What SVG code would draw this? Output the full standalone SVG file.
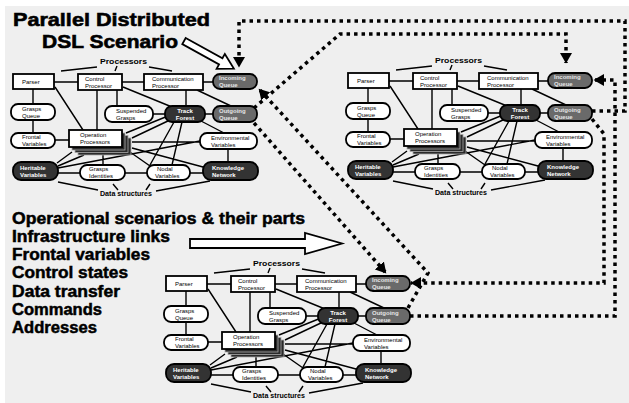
<svg xmlns="http://www.w3.org/2000/svg" width="629" height="403" viewBox="0 0 629 403">
<defs>
<style>
.t{font-family:"Liberation Sans",Arial,sans-serif;font-size:6px;fill:#000}
.tw{font-family:"Liberation Sans",Arial,sans-serif;font-size:6px;font-weight:bold;fill:#fff}
.tg{font-family:"Liberation Sans",Arial,sans-serif;font-size:6px;font-weight:bold;fill:#e4e4e4}
.lbl{font-family:"Liberation Sans",Arial,sans-serif;font-size:7.5px;font-weight:bold;fill:#000}
.big{font-family:"Liberation Sans",Arial,sans-serif;font-size:19px;font-weight:bold;fill:#000;stroke:#000;stroke-width:0.6}
.list{font-family:"Liberation Sans",Arial,sans-serif;font-size:16.5px;font-weight:bold;fill:#000;stroke:#000;stroke-width:0.5}
.n{fill:#fff;stroke:#000;stroke-width:1.8}
.dk{fill:#333;stroke:#000;stroke-width:1.8}
.gy{fill:#6a6a6a;stroke:#000;stroke-width:1.8}
.st{fill:#2a2a2a;stroke:#aaa;stroke-width:0.8}
.e{stroke:#000;stroke-width:1.4;fill:none}
.dot{stroke:#000;stroke-width:3.5;stroke-dasharray:3.5 4;fill:none}
.hol{fill:#fff;stroke:#000;stroke-width:1.8;stroke-linejoin:miter}
</style>
<marker id="ah" markerUnits="userSpaceOnUse" viewBox="0 0 11 12" markerWidth="11" markerHeight="12" refX="10" refY="6" orient="auto"><path d="M0,0 L10.5,6 L0,12 z" fill="#000"/></marker>
</defs>
<rect width="629" height="403" fill="#fff"/>
<rect x="5" y="6" width="624" height="397" fill="#efefef"/>

<g id="titles">
<text class="big" x="13" y="26" textLength="197" lengthAdjust="spacingAndGlyphs">Parallel Distributed</text>
<text class="big" x="42" y="47.5" textLength="136" lengthAdjust="spacingAndGlyphs">DSL Scenario</text>
<text class="list" x="12" y="224" textLength="293" lengthAdjust="spacingAndGlyphs">Operational scenarios &amp; their parts</text>
<text class="list" x="12" y="242" textLength="158" lengthAdjust="spacingAndGlyphs">Infrastructure links</text>
<text class="list" x="12" y="260" textLength="138" lengthAdjust="spacingAndGlyphs">Frontal variables</text>
<text class="list" x="12" y="278" textLength="116" lengthAdjust="spacingAndGlyphs">Control states</text>
<text class="list" x="12" y="297" textLength="108" lengthAdjust="spacingAndGlyphs">Data transfer</text>
<text class="list" x="12" y="315" textLength="90" lengthAdjust="spacingAndGlyphs">Commands</text>
<text class="list" x="12" y="333" textLength="85" lengthAdjust="spacingAndGlyphs">Addresses</text>
</g>

<g id="hollow-arrows">
<polygon class="hol" transform="translate(184,41) rotate(29)" points="0,-3.5 42,-3.5 42,-8.5 57,0 42,8.5 42,3.5 0,3.5"/>
<polygon class="hol" points="190,239 305,239 305,233 342,243.5 305,254 305,248 190,248"/>
</g>

<!-- Diagram A (top-left) -->
<g id="diagA">
<g id="A-edges">
<path class="e" d="M54,82H78M122,82H144M203,82H213M33,89V104M33,120V133M55,140H69M55,87L83,130M97,90V130M117,90V106M123,87L172,107M186,90V106M197,90L231,106M153,114H165M205,114H213M126,133L168,116M132,138L170,120M132,142H200M132,148L203,167M130,152L150,166M103,154V165M57,163L72,152M58,166L84,155M58,168L200,141M58,173H80M125,173H147M190,173H203M228,149V162M201,121L224,133M174,122L150,165M182,122L172,165"/>
</g>
<g id="A-processors-label"><text class="lbl" x="100" y="64" textLength="47" lengthAdjust="spacingAndGlyphs">Processors</text><path class="e" d="M61,71L97,67M149,67L172,71M117,66L115,71"/></g>
<g id="A-data-label"><text class="lbl" x="100" y="196" textLength="52" lengthAdjust="spacingAndGlyphs">Data structures</text><path class="e" d="M58,182L98,190M113,184L118,190M150,184L146,190M156,191L210,181"/></g>
<g id="A-parser"><rect class="n" x="13" y="74" width="41" height="15"/><text class="t" x="22" y="83.5">Parser</text></g>
<g id="A-control"><rect class="n" x="78" y="74" width="44" height="16"/><text class="t" x="85" y="80.5">Control</text><text class="t" x="85" y="87.5">Processor</text></g>
<g id="A-comm"><rect class="n" x="144" y="74" width="59" height="16"/><text class="t" x="152" y="80.5">Communication</text><text class="t" x="152" y="87.5">Processor</text></g>
<g id="A-incoming"><rect class="gy" x="213" y="74" width="44" height="15" rx="7"/><text class="tg" x="219" y="80">Incoming</text><text class="tg" x="219" y="87">Queue</text></g>
<g id="A-graspsq"><rect class="n" x="11" y="104" width="44" height="16" rx="7"/><text class="t" x="22" y="110.5">Grasps</text><text class="t" x="22" y="117.5">Queue</text></g>
<g id="A-suspended"><rect class="n" x="105" y="106" width="48" height="16" rx="7"/><text class="t" x="116" y="112.5">Suspended</text><text class="t" x="116" y="119.5">Grasps</text></g>
<g id="A-track"><rect class="dk" x="165" y="106" width="40" height="16" rx="7"/><text class="tw" x="185" y="112.5" text-anchor="middle">Track</text><text class="tw" x="185" y="119.5" text-anchor="middle">Forest</text></g>
<g id="A-outgoing"><rect class="gy" x="213" y="106" width="44" height="16" rx="7"/><text class="tg" x="219" y="112.5">Outgoing</text><text class="tg" x="219" y="119.5">Queue</text></g>
<g id="A-frontal"><rect class="n" x="11" y="133" width="44" height="15" rx="7"/><text class="t" x="22" y="139">Frontal</text><text class="t" x="22" y="146">Variables</text></g>
<g id="A-opproc"><rect class="st" x="78" y="138" width="53" height="17"/><rect class="st" x="75" y="135.5" width="53" height="17"/><rect class="st" x="72" y="133" width="53" height="17"/><rect class="n" x="69" y="130" width="53" height="17"/><text class="t" x="80" y="136.5">Operation</text><text class="t" x="80" y="143.5">Processors</text></g>
<g id="A-env"><rect class="n" x="200" y="133" width="57" height="16" rx="7"/><text class="t" x="211" y="139.5">Environmental</text><text class="t" x="211" y="146.5">Variables</text></g>
<g id="A-heritable"><rect class="dk" x="13" y="162" width="45" height="18" rx="8"/><text class="tw" x="20" y="169.5">Heritable</text><text class="tw" x="20" y="177">Variables</text></g>
<g id="A-graspsid"><rect class="n" x="80" y="165" width="45" height="15" rx="7"/><text class="t" x="89" y="171">Grasps</text><text class="t" x="89" y="178">Identities</text></g>
<g id="A-nodal"><rect class="n" x="147" y="165" width="43" height="15" rx="7"/><text class="t" x="157" y="171">Nodal</text><text class="t" x="155" y="178">Variables</text></g>
<g id="A-knowledge"><rect class="dk" x="203" y="162" width="55" height="18" rx="8"/><text class="tw" x="212" y="169.5">Knowledge</text><text class="tw" x="212" y="177">Network</text></g>
</g>

<!-- Diagram B (top-right) -->
<g id="diagB" transform="translate(335,-1)">
<g id="B-edges">
<path class="e" d="M54,82H78M122,82H144M203,82H213M33,89V104M33,120V133M55,140H69M55,87L83,130M97,90V130M117,90V106M123,87L172,107M186,90V106M197,90L231,106M153,114H165M205,114H213M126,133L168,116M132,138L170,120M132,142H200M132,148L203,167M130,152L150,166M103,154V165M57,163L72,152M58,166L84,155M58,168L200,141M58,173H80M125,173H147M190,173H203M228,149V162M201,121L224,133M174,122L150,165M182,122L172,165"/>
</g>
<g id="B-processors-label"><text class="lbl" x="100" y="64" textLength="47" lengthAdjust="spacingAndGlyphs">Processors</text><path class="e" d="M61,71L97,67M149,67L172,71M117,66L115,71"/></g>
<g id="B-data-label"><text class="lbl" x="100" y="196" textLength="52" lengthAdjust="spacingAndGlyphs">Data structures</text><path class="e" d="M58,182L98,190M113,184L118,190M150,184L146,190M156,191L210,181"/></g>
<g id="B-parser"><rect class="n" x="13" y="74" width="41" height="15"/><text class="t" x="22" y="83.5">Parser</text></g>
<g id="B-control"><rect class="n" x="78" y="74" width="44" height="16"/><text class="t" x="85" y="80.5">Control</text><text class="t" x="85" y="87.5">Processor</text></g>
<g id="B-comm"><rect class="n" x="144" y="74" width="59" height="16"/><text class="t" x="152" y="80.5">Communication</text><text class="t" x="152" y="87.5">Processor</text></g>
<g id="B-incoming"><rect class="gy" x="213" y="74" width="44" height="15" rx="7"/><text class="tg" x="219" y="80">Incoming</text><text class="tg" x="219" y="87">Queue</text></g>
<g id="B-graspsq"><rect class="n" x="11" y="104" width="44" height="16" rx="7"/><text class="t" x="22" y="110.5">Grasps</text><text class="t" x="22" y="117.5">Queue</text></g>
<g id="B-suspended"><rect class="n" x="105" y="106" width="48" height="16" rx="7"/><text class="t" x="116" y="112.5">Suspended</text><text class="t" x="116" y="119.5">Grasps</text></g>
<g id="B-track"><rect class="dk" x="165" y="106" width="40" height="16" rx="7"/><text class="tw" x="185" y="112.5" text-anchor="middle">Track</text><text class="tw" x="185" y="119.5" text-anchor="middle">Forest</text></g>
<g id="B-outgoing"><rect class="gy" x="213" y="106" width="44" height="16" rx="7"/><text class="tg" x="219" y="112.5">Outgoing</text><text class="tg" x="219" y="119.5">Queue</text></g>
<g id="B-frontal"><rect class="n" x="11" y="133" width="44" height="15" rx="7"/><text class="t" x="22" y="139">Frontal</text><text class="t" x="22" y="146">Variables</text></g>
<g id="B-opproc"><rect class="st" x="78" y="138" width="53" height="17"/><rect class="st" x="75" y="135.5" width="53" height="17"/><rect class="st" x="72" y="133" width="53" height="17"/><rect class="n" x="69" y="130" width="53" height="17"/><text class="t" x="80" y="136.5">Operation</text><text class="t" x="80" y="143.5">Processors</text></g>
<g id="B-env"><rect class="n" x="200" y="133" width="57" height="16" rx="7"/><text class="t" x="211" y="139.5">Environmental</text><text class="t" x="211" y="146.5">Variables</text></g>
<g id="B-heritable"><rect class="dk" x="13" y="162" width="45" height="18" rx="8"/><text class="tw" x="20" y="169.5">Heritable</text><text class="tw" x="20" y="177">Variables</text></g>
<g id="B-graspsid"><rect class="n" x="80" y="165" width="45" height="15" rx="7"/><text class="t" x="89" y="171">Grasps</text><text class="t" x="89" y="178">Identities</text></g>
<g id="B-nodal"><rect class="n" x="147" y="165" width="43" height="15" rx="7"/><text class="t" x="157" y="171">Nodal</text><text class="t" x="155" y="178">Variables</text></g>
<g id="B-knowledge"><rect class="dk" x="203" y="162" width="55" height="18" rx="8"/><text class="tw" x="212" y="169.5">Knowledge</text><text class="tw" x="212" y="177">Network</text></g>
</g>

<!-- Diagram C (bottom) -->
<g id="diagC" transform="translate(153,202)">
<g id="C-edges">
<path class="e" d="M54,82H78M122,82H144M203,82H213M33,89V104M33,120V133M55,140H69M55,87L83,130M97,90V130M117,90V106M123,87L172,107M186,90V106M197,90L231,106M153,114H165M205,114H213M126,133L168,116M132,138L170,120M132,142H200M132,148L203,167M130,152L150,166M103,154V165M57,163L72,152M58,166L84,155M58,168L200,141M58,173H80M125,173H147M190,173H203M228,149V162M201,121L224,133M174,122L150,165M182,122L172,165"/>
</g>
<g id="C-processors-label"><text class="lbl" x="100" y="64" textLength="47" lengthAdjust="spacingAndGlyphs">Processors</text><path class="e" d="M61,71L97,67M149,67L172,71M117,66L115,71"/></g>
<g id="C-data-label"><text class="lbl" x="100" y="196" textLength="52" lengthAdjust="spacingAndGlyphs">Data structures</text><path class="e" d="M58,182L98,190M113,184L118,190M150,184L146,190M156,191L210,181"/></g>
<g id="C-parser"><rect class="n" x="13" y="74" width="41" height="15"/><text class="t" x="22" y="83.5">Parser</text></g>
<g id="C-control"><rect class="n" x="78" y="74" width="44" height="16"/><text class="t" x="85" y="80.5">Control</text><text class="t" x="85" y="87.5">Processor</text></g>
<g id="C-comm"><rect class="n" x="144" y="74" width="59" height="16"/><text class="t" x="152" y="80.5">Communication</text><text class="t" x="152" y="87.5">Processor</text></g>
<g id="C-incoming"><rect class="gy" x="213" y="74" width="44" height="15" rx="7"/><text class="tg" x="219" y="80">Incoming</text><text class="tg" x="219" y="87">Queue</text></g>
<g id="C-graspsq"><rect class="n" x="11" y="104" width="44" height="16" rx="7"/><text class="t" x="22" y="110.5">Grasps</text><text class="t" x="22" y="117.5">Queue</text></g>
<g id="C-suspended"><rect class="n" x="105" y="106" width="48" height="16" rx="7"/><text class="t" x="116" y="112.5">Suspended</text><text class="t" x="116" y="119.5">Grasps</text></g>
<g id="C-track"><rect class="dk" x="165" y="106" width="40" height="16" rx="7"/><text class="tw" x="185" y="112.5" text-anchor="middle">Track</text><text class="tw" x="185" y="119.5" text-anchor="middle">Forest</text></g>
<g id="C-outgoing"><rect class="gy" x="213" y="106" width="44" height="16" rx="7"/><text class="tg" x="219" y="112.5">Outgoing</text><text class="tg" x="219" y="119.5">Queue</text></g>
<g id="C-frontal"><rect class="n" x="11" y="133" width="44" height="15" rx="7"/><text class="t" x="22" y="139">Frontal</text><text class="t" x="22" y="146">Variables</text></g>
<g id="C-opproc"><rect class="st" x="78" y="138" width="53" height="17"/><rect class="st" x="75" y="135.5" width="53" height="17"/><rect class="st" x="72" y="133" width="53" height="17"/><rect class="n" x="69" y="130" width="53" height="17"/><text class="t" x="80" y="136.5">Operation</text><text class="t" x="80" y="143.5">Processors</text></g>
<g id="C-env"><rect class="n" x="200" y="133" width="57" height="16" rx="7"/><text class="t" x="211" y="139.5">Environmental</text><text class="t" x="211" y="146.5">Variables</text></g>
<g id="C-heritable"><rect class="dk" x="13" y="162" width="45" height="18" rx="8"/><text class="tw" x="20" y="169.5">Heritable</text><text class="tw" x="20" y="177">Variables</text></g>
<g id="C-graspsid"><rect class="n" x="80" y="165" width="45" height="15" rx="7"/><text class="t" x="89" y="171">Grasps</text><text class="t" x="89" y="178">Identities</text></g>
<g id="C-nodal"><rect class="n" x="147" y="165" width="43" height="15" rx="7"/><text class="t" x="157" y="171">Nodal</text><text class="t" x="155" y="178">Variables</text></g>
<g id="C-knowledge"><rect class="dk" x="203" y="162" width="55" height="18" rx="8"/><text class="tw" x="212" y="169.5">Knowledge</text><text class="tw" x="212" y="177">Network</text></g>
</g>

<g id="connectors">
<path class="dot" d="M592,111H625V21H239V67" marker-end="url(#ah)"/>
<path class="dot" d="M254,108L340,34H566V63" marker-end="url(#ah)"/>
<path class="dot" d="M254,123L386,273" marker-end="url(#ah)"/>
<path class="dot" d="M408,308L428,273L259,89" marker-end="url(#ah)"/>
<path class="dot" d="M592,119L604,134V283H411" marker-end="url(#ah)"/>
<path class="dot" d="M410,316H615V80H594" marker-end="url(#ah)"/>
</g>
</svg>
